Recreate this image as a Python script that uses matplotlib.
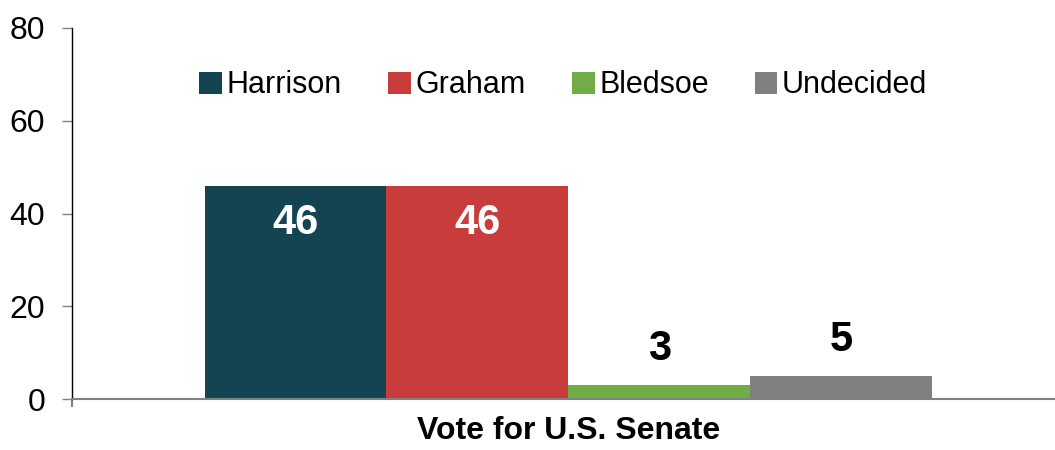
import matplotlib.pyplot as plt

plt.rcParams['font.family'] = ['Liberation Sans', 'DejaVu Sans']

# Data
category = 'Vote for U.S. Senate'
candidates = ['Harrison', 'Graham', 'Bledsoe', 'Undecided']
shares = [46, 46, 3, 5]
colors = ['#144452', '#C93C3C', '#70AD47', '#808080']
y_ticks = [0, 20, 40, 60, 80]

fig = plt.figure(figsize=(10.55, 4.5), dpi=100)
ax = fig.add_axes([0.068, 0.113, 0.932, 0.825])

bar_w = 0.2
offsets = [(i - (len(candidates) - 1) / 2) * bar_w for i in range(len(candidates))]

for off, val, col, name in zip(offsets, shares, colors, candidates):
    ax.bar(off, val, width=bar_w, color=col, label=name, linewidth=0)
    if val > 20:
        ax.text(off, val - 8, str(val), ha='center', va='center',
                fontsize=30, fontweight='bold', color='white')
    else:
        ax.text(off, val + 7.8, str(val), ha='center', va='center',
                fontsize=30, fontweight='bold', color='black')

ax.set_xlim(-0.546, 0.535)
ax.set_ylim(0, 80)
ax.set_yticks(y_ticks)
ax.tick_params(axis='y', labelsize=23, length=7, width=1, color='#808080', pad=12)

ax.set_xticks([0])
ax.set_xticklabels([category], fontsize=23, fontweight='bold')
ax.tick_params(axis='x', which='major', length=0, pad=12)
ax.set_xticks([-0.546], minor=True)
ax.tick_params(axis='x', which='minor', length=6, width=1.5, color='#808080')

for s in ['top', 'right']:
    ax.spines[s].set_visible(False)
ax.spines['left'].set_color('black')
ax.spines['left'].set_linewidth(1)
ax.spines['bottom'].set_color('#808080')
ax.spines['bottom'].set_linewidth(1.5)
ax.spines['bottom'].set_zorder(3)

ax.legend(loc='center', bbox_to_anchor=(0.5, 0.845), ncol=4, frameon=False,
          fontsize=22, handlelength=0.75, handleheight=0.75, handletextpad=0.15,
          columnspacing=1.5, borderaxespad=0)

fig.savefig('out.png', dpi=100)
